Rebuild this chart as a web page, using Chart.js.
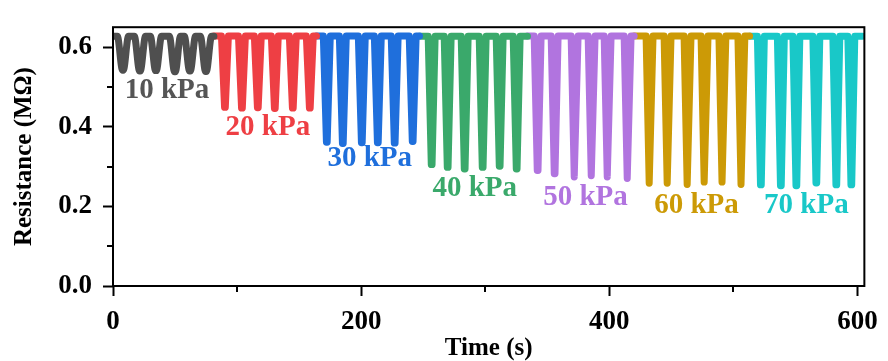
<!DOCTYPE html>
<html>
<head>
<meta charset="utf-8">
<script src="https://cdn.jsdelivr.net/npm/chart.js@4.4.1/dist/chart.umd.min.js"></script>
<style>
  html, body { margin: 0; padding: 0; background: #fff; }
  #wrap { width: 888px; height: 361px; }
</style>
</head>
<body>
<div id="wrap"><canvas id="resistanceChart"></canvas></div>
<script>
// Data
const pressures = ['10 kPa', '20 kPa', '30 kPa', '40 kPa', '50 kPa', '60 kPa', '70 kPa'];
const segmentStart = [0, 81.3, 164, 247, 334, 420, 513];
const segmentEnd = [81.3, 164, 247, 334, 420, 513, 604];
const baseline = [0.627, 0.628, 0.628, 0.627, 0.628, 0.628, 0.627];

const dipTimes10 = [8.0, 21.7, 34.6, 49.9, 62.0, 74.9];
const dipTimes20 = [90.2, 103.9, 116.7, 130.4, 144.9, 158.6];
const dipTimes30 = [172.3, 185.2, 200.5, 213.4, 227.0, 241.5];
const dipTimes40 = [256.8, 269.7, 283.4, 297.9, 311.6, 325.3];
const dipTimes50 = [342.2, 355.9, 372.0, 385.7, 398.6, 414.7];
const dipTimes60 = [432.4, 446.9, 463.0, 476.7, 491.1, 506.4];
const dipTimes70 = [522.1, 538.2, 550.7, 566.8, 582.9, 595.0];

const dipMins10 = [0.542, 0.540, 0.541, 0.538, 0.540, 0.539];
const dipMins20 = [0.449, 0.447, 0.448, 0.446, 0.447, 0.447];
const dipMins30 = [0.361, 0.358, 0.360, 0.360, 0.359, 0.363];
const dipMins40 = [0.305, 0.298, 0.294, 0.298, 0.301, 0.294];
const dipMins50 = [0.290, 0.282, 0.274, 0.277, 0.274, 0.270];
const dipMins60 = [0.258, 0.258, 0.255, 0.261, 0.261, 0.255];
const dipMins70 = [0.254, 0.252, 0.252, 0.259, 0.254, 0.254];

const dipTimes = [dipTimes10, dipTimes20, dipTimes30, dipTimes40, dipTimes50, dipTimes60, dipTimes70];
const dipMins = [dipMins10, dipMins20, dipMins30, dipMins40, dipMins50, dipMins60, dipMins70];

const xTicks = [0, 200, 400, 600];
const yTicks = [0.0, 0.2, 0.4, 0.6];
const xMinorTicks = [100, 300, 500];
const yMinorTicks = [0.1, 0.3, 0.5];

// Style
const colors = ['#4f4f4f', '#ee3f44', '#1f6fdc', '#3aa96b', '#b174df', '#cc9a06', '#19c8c8'];
const labelColors = ['#555555', '#ee3f44', '#1f6fdc', '#3aa96b', '#b174df', '#cc9a06', '#19c8c8'];
const labelX = [43.5, 124.8, 206.9, 291.5, 380.8, 470.2, 558.8];
const labelY = [0.49, 0.399, 0.319, 0.245, 0.221, 0.202, 0.202];
const dipHalfWidth = [4.5, 2.8, 2.8, 2.8, 2.8, 2.8, 2.8];
const serif = '"Liberation Serif", "Times New Roman", serif';

// Build the polyline vertices of each pressure step from the read dips
function buildSegment(i) {
    const pts = [{ x: segmentStart[i], y: baseline[i] }];
    const hw = dipHalfWidth[i];
    dipTimes[i].forEach((t, k) => {
        pts.push({ x: t - hw, y: baseline[i] });
        pts.push({ x: t - 0.3, y: dipMins[i][k] });
        pts.push({ x: t + 0.3, y: dipMins[i][k] });
        pts.push({ x: t + hw, y: baseline[i] });
    });
    pts.push({ x: segmentEnd[i], y: baseline[i] });
    return pts;
}

const datasets = pressures.map((p, i) => ({
    label: p,
    data: buildSegment(i),
    borderColor: colors[i],
    borderWidth: 7,
    borderJoinStyle: 'round',
    borderCapStyle: 'round',
    pointRadius: 0,
    tension: 0,
    // shallow 10 kPa dips are rounder
    cubicInterpolationMode: i === 0 ? 'monotone' : 'default',
    fill: false
}));

// Frame, minor ticks and pressure labels
const overlay = {
    id: 'overlay',
    afterDatasetsDraw(chart) {
        const { ctx, chartArea: a, scales: { x, y } } = chart;
        ctx.save();
        ctx.strokeStyle = '#000';
        ctx.lineWidth = 2;
        ctx.strokeRect(a.left, a.top, a.right - a.left, a.bottom - a.top);
        ctx.beginPath();
        xMinorTicks.forEach(v => {
            const px = Math.round(x.getPixelForValue(v));
            ctx.moveTo(px, a.bottom);
            ctx.lineTo(px, a.bottom + 6);
        });
        yMinorTicks.forEach(v => {
            const py = Math.round(y.getPixelForValue(v));
            ctx.moveTo(a.left, py);
            ctx.lineTo(a.left - 6, py);
        });
        ctx.stroke();

        ctx.font = 'bold 29px ' + serif;
        ctx.textAlign = 'center';
        ctx.textBaseline = 'middle';
        pressures.forEach((p, i) => {
            ctx.fillStyle = labelColors[i];
            ctx.fillText(p, x.getPixelForValue(labelX[i]), y.getPixelForValue(labelY[i]));
        });
        ctx.restore();
    }
};

new Chart(document.getElementById('resistanceChart'), {
    type: 'line',
    data: { datasets: datasets },
    options: {
        responsive: true,
        maintainAspectRatio: false,
        animation: false,
        layout: { padding: { top: 14, right: 23, left: 0, bottom: 0 } },
        plugins: {
            legend: { display: false },
            tooltip: { enabled: false }
        },
        scales: {
            x: {
                type: 'linear',
                min: 0,
                max: 605.5,
                afterFit: s => { s.height = 75; },
                afterBuildTicks: s => { s.ticks = xTicks.map(v => ({ value: v })); },
                border: { display: false },
                grid: {
                    drawOnChartArea: false,
                    drawTicks: true,
                    tickLength: 10,
                    tickWidth: 2,
                    tickColor: '#000'
                },
                ticks: {
                    color: '#000',
                    padding: 10,
                    maxRotation: 0,
                    font: { family: serif, size: 27, weight: 'bold' },
                    callback: v => String(v)
                },
                title: {
                    display: true,
                    text: 'Time (s)',
                    color: '#000',
                    padding: { top: 0, bottom: -3 },
                    font: { family: serif, size: 25, weight: 'bold' }
                }
            },
            y: {
                min: 0,
                max: 0.65,
                afterFit: s => { s.width = 113; },
                afterBuildTicks: s => { s.ticks = yTicks.map(v => ({ value: v })); },
                border: { display: false },
                grid: {
                    drawOnChartArea: false,
                    drawTicks: true,
                    tickLength: 10,
                    tickWidth: 2,
                    tickColor: '#000'
                },
                ticks: {
                    color: '#000',
                    padding: 11,
                    font: { family: serif, size: 27, weight: 'bold' },
                    callback: v => Number(v).toFixed(1)
                },
                title: {
                    display: true,
                    text: 'Resistance (MΩ)',
                    color: '#000',
                    padding: { top: 10, bottom: 0 },
                    font: { family: serif, size: 25, weight: 'bold' }
                }
            }
        }
    },
    plugins: [overlay]
});
</script>
</body>
</html>
